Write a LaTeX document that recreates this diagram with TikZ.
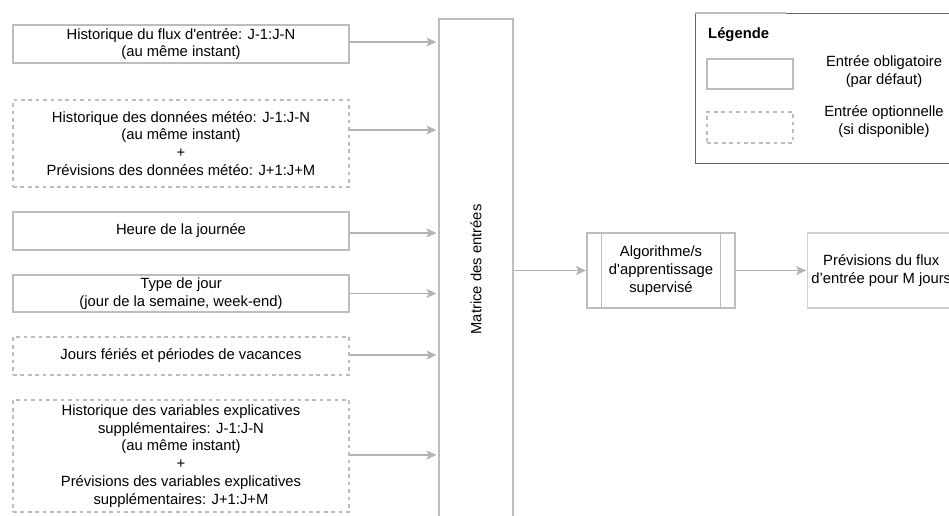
\documentclass[tikz,border=0pt]{standalone}
\usepackage{fontspec}
\setmainfont{Liberation Sans}
\usetikzlibrary{arrows.meta,positioning}

\definecolor{bordgris}{HTML}{BDBDBD}
\definecolor{sortiegris}{HTML}{D0D0D0}
\definecolor{flechegris}{HTML}{B3B3B3}
\definecolor{legendegris}{HTML}{666666}

\newcommand\taille{\fontsize{14.8}{17.8}\selectfont}
% apostrophe droite (sans la conversion en apostrophe typographique)
\newcommand\apos{\XeTeXglyph\XeTeXcharglyph"27\relax}

\tikzset{
    entree/.style={draw=bordgris, line width=1.2pt, minimum width=336pt,
        align=center, inner sep=0pt},
    optionnelle/.style={entree, dash pattern=on 3.7pt off 3.7pt},
    fleche/.style={draw=flechegris, line width=1.2pt,
        -{Stealth[length=10pt,width=9pt,inset=2.5pt]}, shorten >=2pt},
    boite/.style={draw=bordgris, line width=1.2pt, align=center, inner sep=0pt}
}

\begin{document}
\begin{tikzpicture}[x=1pt, y=-1pt, font=\taille]
\useasboundingbox (0,0) rectangle (949,515);
\clip (0,0) rectangle (949,515);

% entrees
\node(E1) [entree, minimum height=38pt] at (181,44) {Historique du flux d\apos entrée: J-1:J-N\\(au même instant)};
\node(E2) [optionnelle, minimum height=87pt] at (181,143.5) {Historique des données météo: J-1:J-N\\(au même instant)\\+\\Prévisions des données météo: J+1:J+M};
\node(E3) [entree, minimum height=38pt] at (181,231) {Heure de la journée};
\node(E4) [entree, minimum height=37pt] at (181,293.5) {Type de jour\\(jour de la semaine, week-end)};
\node(E5) [optionnelle, minimum height=38pt] at (181,356) {Jours fériés et périodes de vacances};
\node(E6) [optionnelle, minimum height=112pt] at (181,456) {Historique des variables explicatives\\supplémentaires: J-1:J-N\\(au même instant)\\+\\Prévisions des variables explicatives\\supplémentaires: J+1:J+M};

% matrice
\node(M) [boite, minimum width=74pt, minimum height=501pt] at (476,269.5) {};
\node(Mtxt) [rotate=90] at (M.center) {Matrice des entrées};

\draw[fleche] ([yshift=2pt]E1.east) -- ([yshift=2pt]E1.east -| M.west);
\draw[fleche] ([yshift=13.5pt]E2.east) -- ([yshift=13.5pt]E2.east -| M.west);
\draw[fleche] ([yshift=-2pt]E3.east) -- ([yshift=-2pt]E3.east -| M.west);
\draw[fleche] (E4.east) -- (E4.east -| M.west);
\draw[fleche] ([yshift=1pt]E5.east) -- ([yshift=1pt]E5.east -| M.west);
\draw[fleche] ([yshift=1pt]E6.east) -- ([yshift=1pt]E6.east -| M.west);

% algorithme et sortie
\node(A) [boite, minimum width=148pt, minimum height=75pt] at (661,270.5) {Algorithme/s\\d\apos apprentissage\\supervisé};
\draw[bordgris, line width=1.2pt] ([xshift=15pt]A.north west) -- ([xshift=15pt]A.south west);
\draw[bordgris, line width=1.2pt] ([xshift=-15pt]A.north east) -- ([xshift=-15pt]A.south east);
\node(S) [boite, draw=sortiegris, minimum width=148pt, minimum height=75pt, right=71pt of A] {Prévisions du flux\\d’entrée pour M jours};

\draw[fleche, shorten >=0.5pt] (M.east |- A.west) -- (A.west);
\draw[fleche, shorten >=0.5pt] (A.east) -- (S.west);

% legende
\node(L) [draw=legendegris, line width=1.2pt, minimum width=290pt, minimum height=150pt,
    anchor=north west, inner sep=0pt] at (695,13) {};
\draw[bordgris, line width=1.2pt] (L.north west) -- ++(91,0);
\node(Ltitre) [font=\taille\bfseries, anchor=west, inner sep=0pt] at (708,35) {Légende};
\node(Lobl) [entree, minimum width=86pt, minimum height=30pt] at (750,74) {};
\node(Lopt) [optionnelle, minimum width=86pt, minimum height=31pt] at (750,127.5) {};
\node(Tobl) [align=center, inner sep=0pt] at (884,71.5) {Entrée obligatoire\\(par défaut)};
\node(Topt) [align=center, inner sep=0pt] at (884,121.5) {Entrée optionnelle\\(si disponible)};
\end{tikzpicture}
\end{document}
